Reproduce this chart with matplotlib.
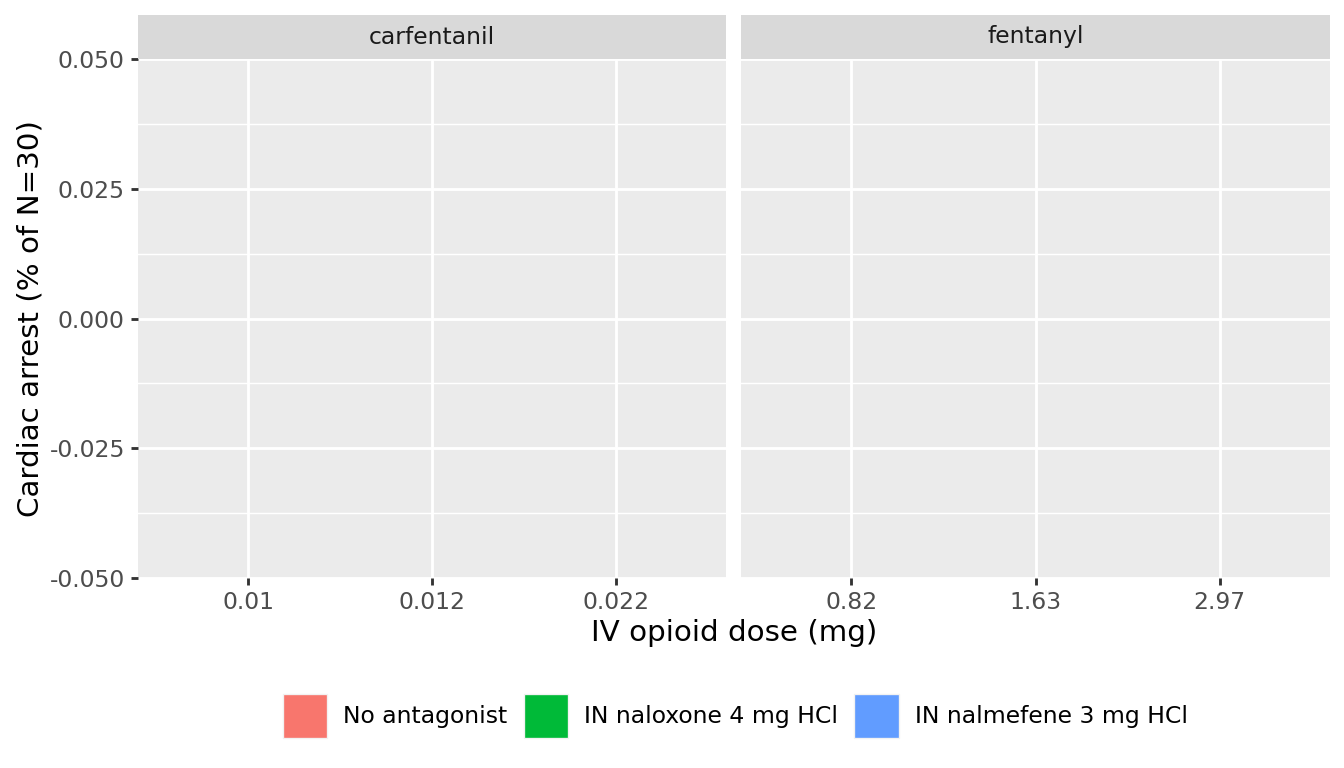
import numpy as np
import matplotlib
matplotlib.use("Agg")
import matplotlib.pyplot as plt
from matplotlib.patches import Patch

# data (all bars are zero height)
drugs = ["carfentanil", "fentanyl"]
doses = {
    "carfentanil": ["0.01", "0.012", "0.022"],
    "fentanyl": ["0.82", "1.63", "2.97"],
}
treatments = ["No antagonist", "IN naloxone 4 mg HCl", "IN nalmefene 3 mg HCl"]
colors = ["#F8766D", "#00BA38", "#619CFF"]
arrest = {
    "carfentanil": [[0, 0, 0], [0, 0, 0], [0, 0, 0]],
    "fentanyl": [[0, 0, 0], [0, 0, 0], [0, 0, 0]],
}

plt.rcParams["font.family"] = ["DejaVu Sans"]
fig = plt.figure(figsize=(7, 4), dpi=192)

panel_bottom = 1 - 578 / 768
panel_top = 1 - 59 / 768
strip_top = 1 - 15 / 768
lefts = [138 / 1344, 741 / 1344]
rights = [726 / 1344, 1330 / 1344]

yticks = [-0.05, -0.025, 0.0, 0.025, 0.05]
minor = [-0.0375, -0.0125, 0.0125, 0.0375]

for k, drug in enumerate(drugs):
    w = rights[k] - lefts[k]
    ax = fig.add_axes([lefts[k], panel_bottom, w, panel_top - panel_bottom])
    ax.set_facecolor("#EBEBEB")
    for s in ax.spines.values():
        s.set_visible(False)
    x = np.arange(len(doses[drug]))
    bw = 0.9 / len(treatments)
    for t, name in enumerate(treatments):
        ax.bar(x - 0.45 + bw * (t + 0.5), arrest[drug][t], width=bw,
               color=colors[t], zorder=3)
    ax.set_xlim(-0.6, len(x) - 0.4)
    ax.set_ylim(-0.05, 0.05)
    ax.set_xticks(x)
    ax.set_xticklabels(doses[drug])
    ax.set_yticks(yticks)
    ax.set_yticks(minor, minor=True)
    ax.grid(True, which="major", color="white", linewidth=1.07, zorder=0)
    ax.grid(True, which="minor", axis="y", color="white", linewidth=0.53, zorder=0)
    ax.set_axisbelow(True)
    ax.tick_params(which="major", length=2.75, width=1.07, color="#333333",
                   labelsize=8.8, labelcolor="#4D4D4D", pad=2.2)
    ax.tick_params(which="minor", length=0)
    if k == 0:
        ax.set_yticklabels([f"{v:.3f}" for v in yticks])
        ax.set_ylabel("Cardiac arrest (% of N=30)", fontsize=11, labelpad=2)
    else:
        ax.tick_params(axis="y", which="both", left=False, labelleft=False)

    sax = fig.add_axes([lefts[k], panel_top, w, strip_top - panel_top])
    sax.set_facecolor("#D9D9D9")
    sax.set_xticks([])
    sax.set_yticks([])
    for s in sax.spines.values():
        s.set_visible(False)
    sax.text(0.5, 0.5, drug, ha="center", va="center", fontsize=8.8,
             color="#1A1A1A", transform=sax.transAxes)

fig.text((lefts[0] + rights[1]) / 2, 1 - 633 / 768, "IV opioid dose (mg)",
         ha="center", va="center", fontsize=11)

handles = [Patch(facecolor=c, edgecolor="#F2F2F2", linewidth=0.5) for c in colors]
fig.legend(handles, treatments, loc="center", bbox_to_anchor=(0.547, 1 - 716 / 768),
           ncol=3, frameon=False, fontsize=8.8, handlelength=1.9, handleheight=2.5,
           handletextpad=0.68, columnspacing=0.68, borderaxespad=0)

fig.savefig("out.png", dpi=192)
